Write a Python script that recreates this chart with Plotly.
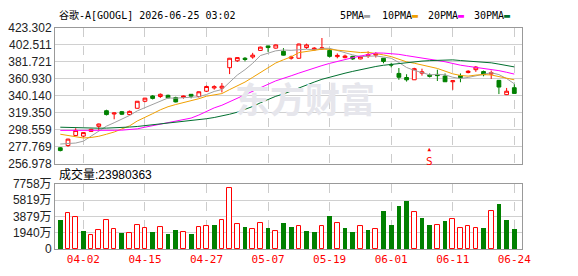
import plotly.graph_objects as go

dates = ["2026-03-30","2026-03-31","2026-04-01","2026-04-02","2026-04-06","2026-04-07","2026-04-08","2026-04-09","2026-04-10","2026-04-13",
         "2026-04-14","2026-04-15","2026-04-16","2026-04-17","2026-04-20","2026-04-21","2026-04-22","2026-04-23","2026-04-24","2026-04-27",
         "2026-04-28","2026-04-29","2026-04-30","2026-05-01","2026-05-04","2026-05-05","2026-05-06","2026-05-07","2026-05-08","2026-05-11",
         "2026-05-12","2026-05-13","2026-05-14","2026-05-15","2026-05-18","2026-05-19","2026-05-20","2026-05-21","2026-05-22","2026-05-26",
         "2026-05-27","2026-05-28","2026-05-29","2026-06-01","2026-06-02","2026-06-03","2026-06-04","2026-06-05","2026-06-08","2026-06-09",
         "2026-06-10","2026-06-11","2026-06-12","2026-06-15","2026-06-16","2026-06-17","2026-06-18","2026-06-22","2026-06-23","2026-06-24"]

opens = [276.4, 279.1, 291.5, 290.7, 296.5, 302.7, 321.8, 317.8, 320.6, 317.1,
         324.8, 333.4, 339.9, 339.2, 340.7, 338.0, 338.0, 341.9, 339.2, 345.7,
         349.7, 349.5, 374.5, 383.0, 386.1, 387.6, 395.7, 401.2, 398.5, 394.6,
         386.1, 386.1, 399.2, 396.5, 397.6, 395.7, 388.1, 386.9, 388.4, 385.3,
         389.0, 389.9, 386.1, 378.5, 367.5, 362.5, 359.7, 367.8, 365.5, 366.3,
         364.3, 357.3, 364.8, 368.6, 372.1, 369.8, 366.7, 359.0, 341.5, 350.0]
highs = [277.3, 287.5, 300.4, 295.5, 299.5, 306.0, 323.0, 319.3, 321.5, 322.0,
         333.5, 337.5, 341.0, 343.0, 341.5, 339.0, 340.5, 342.0, 345.5, 352.6,
         353.0, 355.8, 386.5, 387.2, 387.6, 392.7, 400.4, 401.5, 403.0, 398.5,
         389.3, 404.0, 404.0, 399.7, 410.9, 397.7, 392.0, 390.5, 389.0, 389.0,
         394.5, 393.5, 386.5, 380.5, 374.1, 366.5, 374.4, 373.3, 367.5, 372.1,
         367.5, 358.8, 367.5, 371.5, 376.5, 371.0, 371.0, 359.5, 349.7, 354.3]
lows = [272.0, 277.6, 291.0, 289.2, 296.0, 297.7, 316.0, 311.3, 316.5, 316.5,
        324.5, 332.2, 335.6, 337.5, 337.0, 332.0, 336.6, 337.0, 338.0, 344.7,
        347.6, 344.2, 366.7, 381.5, 382.3, 385.5, 395.0, 393.9, 398.0, 389.5,
        384.4, 385.5, 397.5, 395.8, 396.5, 386.9, 386.0, 386.0, 384.0, 384.8,
        386.5, 387.0, 379.9, 375.0, 359.7, 357.5, 359.5, 364.8, 362.5, 358.2,
        357.0, 347.4, 356.7, 367.6, 369.4, 364.0, 360.8, 342.2, 341.0, 343.0]
closes = [273.0, 287.0, 297.7, 295.0, 299.0, 305.5, 317.1, 319.0, 317.5, 321.0,
          333.4, 337.2, 336.9, 341.9, 337.6, 332.6, 339.9, 339.6, 345.0, 351.5,
          351.2, 351.8, 386.1, 386.9, 384.6, 389.9, 399.7, 399.2, 402.4, 389.9,
          387.6, 403.5, 402.4, 398.5, 398.8, 388.4, 389.6, 388.8, 385.3, 388.4,
          390.5, 391.4, 382.2, 377.8, 362.8, 359.7, 373.3, 369.4, 364.0, 364.8,
          357.3, 358.5, 362.0, 370.2, 375.3, 366.0, 368.3, 350.8, 345.7, 343.0]

ma5 = [281.0, 281.3, 282.2, 284.5, 290.3, 296.8, 302.9, 307.1, 311.6, 316.0,
       321.6, 325.6, 329.2, 334.1, 337.4, 337.2, 337.8, 338.3, 338.9, 341.7,
       345.4, 347.8, 357.1, 365.5, 372.1, 379.9, 389.4, 392.1, 395.2, 396.2,
       395.8, 396.5, 397.2, 396.4, 398.2, 398.3, 395.5, 392.8, 390.2, 388.1,
       388.5, 388.9, 387.6, 386.1, 380.9, 374.8, 371.2, 368.6, 365.8, 366.2,
       365.8, 362.8, 361.3, 362.6, 364.7, 366.4, 368.4, 366.1, 361.2, 354.8]
ma10 = [293.0, 291.5, 289.5, 288.4, 289.0, 290.5, 293.0, 295.7, 299.5, 303.2,
        309.2, 314.2, 318.2, 322.9, 326.7, 329.4, 331.7, 333.8, 336.5, 339.6,
        341.3, 342.8, 347.7, 352.2, 356.9, 362.7, 368.6, 374.6, 380.3, 384.2,
        387.8, 393.0, 394.6, 395.8, 397.2, 397.0, 396.0, 395.0, 393.3, 393.1,
        393.4, 392.2, 390.2, 388.1, 384.5, 381.7, 380.0, 378.1, 376.0, 373.6,
        370.3, 367.0, 365.0, 364.2, 365.5, 366.1, 365.6, 363.7, 361.9, 359.7]
ma20 = [297.7, 297.6, 297.5, 297.5, 297.5, 297.6, 297.7, 297.8, 298.0, 298.9,
        299.6, 301.6, 303.5, 305.4, 307.4, 308.9, 310.5, 312.8, 316.5, 321.4,
        325.3, 328.5, 332.9, 337.5, 341.8, 346.0, 350.2, 354.2, 358.4, 361.9,
        364.6, 367.9, 371.2, 374.0, 377.1, 379.8, 382.3, 384.8, 386.8, 388.7,
        390.6, 392.6, 392.4, 391.9, 390.9, 389.3, 388.0, 386.5, 384.6, 383.4,
        381.8, 379.6, 377.6, 376.2, 375.0, 373.9, 372.8, 370.9, 368.9, 366.7]
ma30 = [301.6, 301.2, 300.8, 300.5, 300.4, 300.4, 300.5, 300.7, 301.2, 301.8,
        302.5, 303.5, 304.5, 305.5, 306.8, 308.0, 308.7, 309.3, 310.5, 312.0,
        313.5, 315.1, 317.5, 320.0, 323.5, 327.0, 331.5, 336.0, 339.5, 342.3,
        346.1, 350.0, 353.5, 356.9, 360.3, 363.0, 365.5, 367.8, 370.0, 372.3,
        374.2, 376.0, 377.5, 378.7, 379.5, 380.4, 381.6, 382.6, 383.2, 383.6,
        383.8, 384.1, 383.3, 382.7, 382.4, 381.6, 380.5, 378.9, 377.0, 375.5]

volumes_wan = [3520, 4353, 3785, 2157, 1703, 2233, 3407, 2347, 1930, 1930,
               2839, 2460, 2044, 2612, 1817, 2271, 2006, 1817, 2612, 2801,
               2839, 3482, 7229, 3028, 2612, 2385, 3142, 2498, 2120, 3066,
               2612, 2801, 2157, 2044, 2725, 3974, 3142, 2498, 2044, 2801,
               2271, 2385, 4542, 2839, 5110, 5678, 4391, 3747, 2839, 2914,
               3293, 3596, 2460, 2801, 2460, 2498, 4504, 5337, 3407, 2398]
vol_up = [0,1,1,0,1,1,1,1,0,1,
          1,1,0,1,0,0,1,0,1,1,
          0,1,1,1,0,1,1,0,1,0,
          0,1,0,0,1,0,1,0,0,1,
          0,1,0,0,0,0,1,0,0,1,
          0,1,1,1,1,0,1,0,0,0]

price_tick_labels = ["256.978", "277.769", "298.559", "319.350", "340.140",
                     "360.930", "381.721", "402.511", "423.302"]
vol_tick_values = [0, 1940, 3879, 5819, 7758]
vol_tick_labels = ["0", "1940万", "3879万", "5819万", "7758万"]
date_tick_index = [3, 11, 19, 27, 35, 43, 51, 59]
signal_index = 48

title_text = "谷歌-A[GOOGL] 2026-06-25 03:02"
volume_title = "成交量:23980363"
ma_names = ["5PMA", "10PMA", "20PMA", "30PMA"]
ma_colors = ["#a0a0a0", "#f0a000", "#ff00ff", "#006f2f"]

RED = "#ff0000"
GREEN = "#008000"
MONO = "DejaVu Sans Mono, Noto Sans CJK SC, monospace"
SANS = "Liberation Sans, Arial, Noto Sans CJK SC, sans-serif"

idx = list(range(len(dates)))
fig = go.Figure()

fig.add_trace(go.Candlestick(
    x=idx, open=opens, high=highs, low=lows, close=closes,
    xaxis="x2", yaxis="y2",
    increasing=dict(line=dict(color=RED, width=1), fillcolor="white"),
    decreasing=dict(line=dict(color=GREEN, width=1), fillcolor=GREEN),
    whiskerwidth=0, showlegend=False, hoverinfo="skip"))

for vals, col in zip([ma5, ma10, ma20, ma30], ma_colors):
    fig.add_trace(go.Scatter(x=idx, y=vals, mode="lines", xaxis="x2", yaxis="y2",
                             line=dict(color=col, width=1), showlegend=False, hoverinfo="skip"))

up_x = [i for i in idx if vol_up[i]]
dn_x = [i for i in idx if not vol_up[i]]
fig.add_trace(go.Bar(x=up_x, y=[volumes_wan[i] for i in up_x], width=0.6,
                     marker=dict(color="white", line=dict(color=RED, width=1)),
                     showlegend=False, hoverinfo="skip"))
fig.add_trace(go.Bar(x=dn_x, y=[volumes_wan[i] for i in dn_x], width=0.62,
                     marker=dict(color=GREEN, line=dict(color=GREEN, width=0)),
                     showlegend=False, hoverinfo="skip"))

price_vals = [float(s) for s in price_tick_labels]
W, H = 578, 276
L, R = 55, 56

def py(px):
    return 1 - px / H

grid = "#d0d0d0"
border = "#999999"
xr = [-0.69, 60.0]
common_x = dict(range=xr, tickmode="array", tickvals=date_tick_index,
                showgrid=True, gridcolor="#cccccc", griddash="dash", gridwidth=1,
                showline=True, linecolor=border, linewidth=1, mirror=True,
                zeroline=False, ticks="", fixedrange=True)

fig.update_layout(
    width=W, height=H,
    margin=dict(l=L, r=R, t=0, b=0, pad=0),
    paper_bgcolor="white", plot_bgcolor="white",
    bargap=0, barmode="overlay",
    xaxis=dict(domain=[0, 1], anchor="y",
               ticktext=[dates[i][5:] for i in date_tick_index],
               tickfont=dict(family=MONO, size=11, color=RED), **common_x),
    xaxis2=dict(domain=[0, 1], anchor="y2", matches="x", showticklabels=False,
                rangeslider=dict(visible=False), **common_x),
    yaxis=dict(domain=[py(255), py(186.5)], range=[0, vol_tick_values[-1]],
               tickmode="array", tickvals=vol_tick_values, ticktext=vol_tick_labels,
               tickfont=dict(family=SANS, size=12, color="#222"),
               showgrid=True, gridcolor=grid, showline=True, linecolor=border,
               mirror=True, zeroline=False, ticks="", fixedrange=True),
    yaxis2=dict(domain=[py(165), py(22)], range=[price_vals[0], price_vals[-1]],
                tickmode="array", tickvals=price_vals, ticktext=price_tick_labels,
                tickfont=dict(family=SANS, size=12, color="#222"),
                showgrid=True, gridcolor=grid, showline=True, linecolor=border,
                mirror=True, zeroline=False, ticks="", fixedrange=True),
)

ann = []
ann.append(dict(text=title_text, xref="paper", yref="paper", x=(57 - L) / (W - L - R), y=py(8),
                xanchor="left", yanchor="middle", showarrow=False,
                font=dict(family=MONO, size=10, color="#000")))
leg_x = [338, 380, 425.5, 471.5]
for name, col, lx in zip(ma_names, ma_colors, leg_x):
    ann.append(dict(text=f"{name}<span style='color:{col}'>▬</span>", xref="paper", yref="paper",
                    x=(lx - L) / (W - L - R), y=py(8.5), xanchor="left", yanchor="middle",
                    showarrow=False, font=dict(family=MONO, size=10, color="#000")))
ann.append(dict(text=volume_title, xref="paper", yref="paper", x=(57 - L) / (W - L - R), y=py(176),
                xanchor="left", yanchor="middle", showarrow=False,
                font=dict(family=SANS, size=12, color="#000")))
ann.append(dict(text="东方财富", xref="paper", yref="paper", x=0.535, y=py(95),
                xanchor="center", yanchor="middle", showarrow=False,
                font=dict(family="Noto Sans CJK SC", size=35, color="#e6e6ec", weight="bold")))
ann.append(dict(text="<span style='font-size:6px'>▲</span><br>S", xref="x2", yref="paper",
                x=signal_index, y=py(157.5),
                xanchor="center", yanchor="middle", showarrow=False,
                font=dict(family=MONO, size=11, color=RED)))
fig.update_layout(annotations=ann)

fig.write_html("out.html")
